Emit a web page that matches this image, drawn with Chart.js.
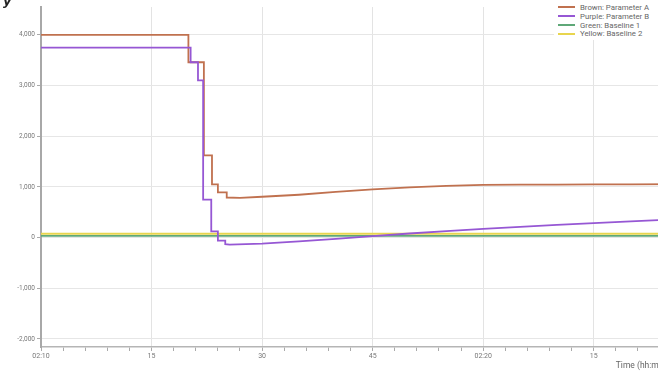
<!DOCTYPE html>
<html>
<head>
<meta charset="utf-8">
<script src="https://cdn.jsdelivr.net/npm/chart.js@4.4.1/dist/chart.umd.min.js"></script>
<style>
  html, body { margin: 0; padding: 0; background: #fff; overflow: hidden; }
  #wrap { position: relative; width: 658px; height: 373px; overflow: hidden; }
  #chart { position: absolute; left: 0; top: 0; }
  #corner { position: absolute; left: 3px; top: -7px; font: italic bold 13px "DejaVu Sans", sans-serif; color: #222; }
  #legend { position: absolute; left: 554px; top: 2px; width: 110px; background: #fff; padding: 1px 0 2px 0; }
  #legend .row { height: 8.8px; display: flex; align-items: center; font: 7.8px Roboto, sans-serif; color: #666; white-space: nowrap; }
  #legend .sw { width: 17px; height: 2px; margin: 0 5px 0 4px; }
</style>
</head>
<body>
<div id="wrap">
  <canvas id="chart" width="680" height="373"></canvas>
  <div id="corner">y</div>
  <div id="legend"></div>
</div>
<script>
// x values are seconds after the first tick (02:10)
var brownTime = [0, 20, 20, 22.1, 22.1, 23.2, 23.2, 24, 24, 25.2, 25.2, 27, 30, 35, 40, 45, 50, 55, 60, 65, 70, 75, 80, 87];
var brownVals = [4000, 4000, 3460, 3460, 1620, 1620, 1050, 1050, 890, 890, 790, 785, 805, 845, 900, 950, 990, 1020, 1040, 1045, 1045, 1050, 1050, 1055];

var purpleTime = [0, 20.3, 20.3, 21.3, 21.3, 22, 22, 23.1, 23.1, 24, 24, 25, 25, 25.6, 30, 35, 40, 45, 50, 55, 60, 65, 70, 75, 80, 87];
var purpleVals = [3750, 3750, 3460, 3460, 3100, 3100, 750, 750, 120, 120, -60, -60, -130, -140, -120, -75, -25, 30, 80, 125, 170, 210, 250, 285, 320, 365];

var greenTime = [0, 87];
var greenVals = [35, 35];

var yellowTime = [0, 87];
var yellowVals = [75, 75];

var seriesNames = ['Brown: Parameter A', 'Purple: Parameter B', 'Green: Baseline 1', 'Yellow: Baseline 2'];
var seriesColors = ['#c0714f', '#9657d4', '#5fa878', '#e8d54e'];

var xTickValues = [0, 15, 30, 45, 60, 75];
var xTickLabels = ['02:10', '15', '30', '45', '02:20', '15'];
var yTickValues = [-2000, -1000, 0, 1000, 2000, 3000, 4000];

function pts(xs, ys) {
    return xs.map(function (x, i) { return { x: x, y: ys[i] }; });
}

var allSeries = [
    pts(brownTime, brownVals),
    pts(purpleTime, purpleVals),
    pts(greenTime, greenVals),
    pts(yellowTime, yellowVals)
];

var datasets = allSeries.map(function (d, i) {
    return {
        label: seriesNames[i],
        data: d,
        borderColor: seriesColors[i],
        backgroundColor: seriesColors[i],
        borderWidth: 1.8,
        pointRadius: 0,
        tension: 0,
        fill: false
    };
});
// baselines go under the parameters
datasets[2].order = 3;
datasets[3].order = 2;
datasets[0].order = 1;
datasets[1].order = 0;

new Chart(document.getElementById('chart'), {
    type: 'line',
    data: { datasets: datasets },
    options: {
        responsive: false,
        animation: false,
        devicePixelRatio: 1,
        layout: { padding: { top: 7, left: 0, right: 0, bottom: 0 } },
        plugins: {
            legend: { display: false },
            tooltip: { enabled: false }
        },
        scales: {
            x: {
                type: 'linear',
                min: 0,
                max: 86.7,
                afterFit: function (scale) { scale.height = 26; },
                afterBuildTicks: function (scale) {
                    var t = [];
                    for (var v = 0; v <= 84; v += 3) t.push({ value: v });
                    scale.ticks = t;
                },
                ticks: {
                    autoSkip: false,
                    maxRotation: 0,
                    padding: 1,
                    color: '#777',
                    font: { family: 'Roboto', size: 7 },
                    callback: function (v) {
                        var k = xTickValues.indexOf(v);
                        return k >= 0 ? xTickLabels[k] : '';
                    }
                },
                grid: {
                    color: function (ctx) {
                        return ctx.tick && ctx.tick.value % 15 === 0 ? '#e3e3e3' : 'rgba(0,0,0,0)';
                    },
                    tickColor: '#aaa',
                    tickLength: 4,
                    lineWidth: 1
                },
                border: { color: '#b5b5b5', width: 1.5 },
                title: {
                    display: true,
                    text: 'Time (hh:mm:ss)',
                    align: 'end',
                    color: '#666',
                    font: { family: 'Roboto', size: 8.5 },
                    padding: { top: 0, bottom: 2 }
                }
            },
            y: {
                min: -2160,
                max: 4550,
                afterFit: function (scale) { scale.width = 41; },
                afterBuildTicks: function (scale) {
                    scale.ticks = yTickValues.map(function (v) { return { value: v }; });
                },
                ticks: {
                    padding: 2,
                    color: '#777',
                    font: { family: 'Roboto', size: 6.5 },
                    callback: function (v) { return v.toLocaleString('en-US'); }
                },
                grid: {
                    color: '#e6e6e6',
                    tickColor: '#aaa',
                    tickLength: 4,
                    lineWidth: 1
                },
                border: { color: '#a8a8a8', width: 2 }
            }
        }
    }
});

var legend = document.getElementById('legend');
seriesNames.forEach(function (name, i) {
    var row = document.createElement('div');
    row.className = 'row';
    var sw = document.createElement('span');
    sw.className = 'sw';
    sw.style.background = seriesColors[i];
    row.appendChild(sw);
    row.appendChild(document.createTextNode(name));
    legend.appendChild(row);
});
</script>
</body>
</html>
